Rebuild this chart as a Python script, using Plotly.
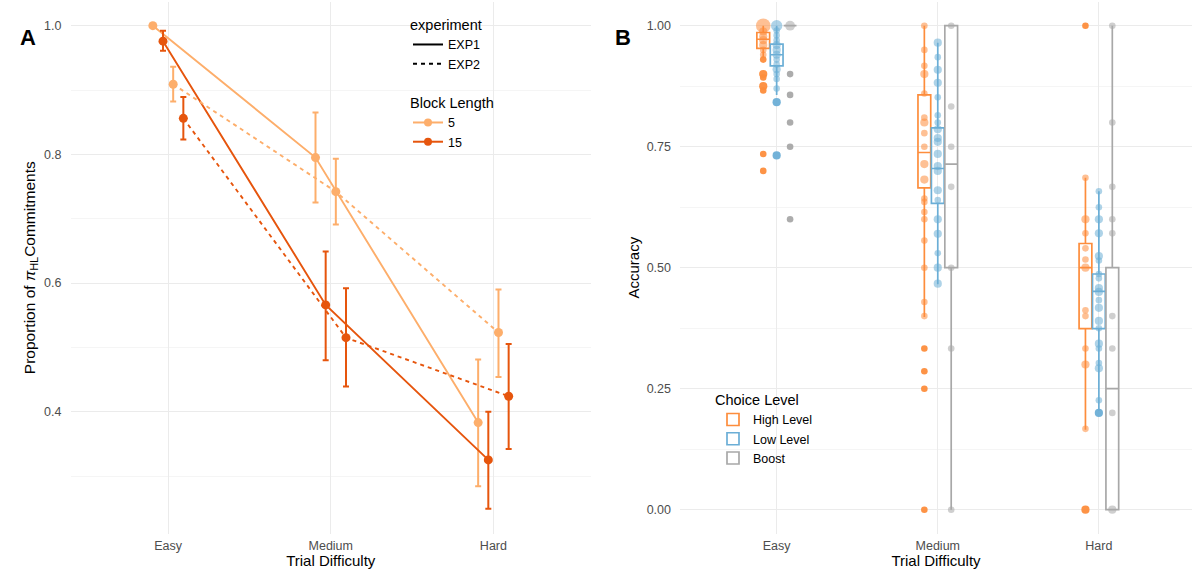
import plotly.graph_objects as go

# ---------------- Panel A data ----------------
difficulty = ["Easy", "Medium", "Hard"]
block_lengths = ["5", "15"]
experiments = ["EXP1", "EXP2"]

# proportion of pi_HL commitments (mean, lower, upper)
b5_exp1_mean = [1.000, 0.795, 0.383]
b5_exp1_low = [1.000, 0.725, 0.284]
b5_exp1_high = [1.000, 0.865, 0.481]

b15_exp1_mean = [0.976, 0.566, 0.325]
b15_exp1_low = [0.961, 0.480, 0.249]
b15_exp1_high = [0.992, 0.649, 0.400]

b5_exp2_mean = [0.909, 0.742, 0.523]
b5_exp2_low = [0.882, 0.691, 0.454]
b5_exp2_high = [0.936, 0.793, 0.590]

b15_exp2_mean = [0.856, 0.515, 0.424]
b15_exp2_low = [0.823, 0.439, 0.342]
b15_exp2_high = [0.889, 0.592, 0.505]

# ---------------- Panel B data ----------------
choice_levels = ["High Level", "Low Level", "Boost"]

# box statistics per difficulty (Easy, Medium, Hard)
high_q1 = [0.953, 0.665, 0.374]
high_med = [0.972, 0.738, 0.500]
high_q3 = [0.986, 0.857, 0.550]
high_lo = [0.933, 0.398, 0.165]
high_hi = [1.000, 1.000, 0.686]

low_q1 = [0.917, 0.633, 0.374]
low_med = [0.940, 0.705, 0.451]
low_q3 = [0.962, 0.789, 0.487]
low_lo = [0.857, 0.466, 0.204]
low_hi = [1.000, 0.965, 0.658]

boost_q1 = [1.000, 0.500, 0.000]
boost_med = [1.000, 0.714, 0.250]
boost_q3 = [1.000, 1.000, 0.500]
boost_lo = [1.000, 0.000, 0.000]
boost_hi = [1.000, 1.000, 1.000]

# individual accuracies and how many participants share each value
high_easy = [1.0, 0.988, 0.978, 0.970, 0.960, 0.950, 0.940, 0.930, 0.900, 0.893, 0.875, 0.866, 0.735, 0.700]
high_easy_n = [6, 2, 2, 2, 2, 1, 1, 1, 2, 1, 2, 1, 1, 1]
high_medium = [1.0, 0.950, 0.917, 0.900, 0.860, 0.810, 0.800, 0.778, 0.750, 0.714, 0.682, 0.643, 0.636,
               0.615, 0.600, 0.556, 0.500, 0.429, 0.400, 0.333, 0.286, 0.250, 0.0]
high_medium_n = [1, 1, 1, 2, 1, 1, 2, 1, 1, 2, 2, 1, 1, 1, 1, 1, 1, 1, 1, 1, 1, 1, 1]
high_hard = [1.0, 0.686, 0.600, 0.571, 0.540, 0.517, 0.500, 0.412, 0.400, 0.333, 0.300, 0.167, 0.0]
high_hard_n = [1, 1, 2, 1, 1, 1, 2, 1, 1, 1, 2, 1, 2]

low_easy = [1.0, 0.990, 0.980, 0.970, 0.960, 0.950, 0.940, 0.930, 0.920, 0.910, 0.900, 0.890, 0.870, 0.842, 0.732]
low_easy_n = [4, 1, 1, 1, 2, 2, 2, 1, 1, 2, 1, 1, 1, 2, 2]
low_medium = [0.965, 0.935, 0.909, 0.882, 0.852, 0.815, 0.800, 0.786, 0.768, 0.760, 0.735, 0.710,
              0.700, 0.660, 0.640, 0.600, 0.570, 0.530, 0.500, 0.467]
low_medium_n = [2, 1, 2, 2, 1, 1, 1, 2, 2, 2, 2, 2, 2, 2, 1, 2, 2, 1, 2, 2]
low_hard = [0.658, 0.625, 0.600, 0.571, 0.524, 0.515, 0.487, 0.478, 0.458, 0.450, 0.433, 0.417,
            0.390, 0.375, 0.343, 0.333, 0.303, 0.292, 0.226, 0.200]
low_hard_n = [1, 1, 2, 2, 2, 1, 1, 1, 2, 2, 1, 2, 2, 1, 2, 1, 1, 2, 1, 2]

boost_easy = [1.0, 0.900, 0.857, 0.800, 0.750, 0.600]
boost_easy_n = [3, 1, 1, 1, 1, 1]
boost_medium = [1.0, 0.833, 0.750, 0.667, 0.500, 0.333, 0.0]
boost_medium_n = [1, 1, 1, 1, 1, 1, 1]
boost_hard = [1.0, 0.800, 0.667, 0.600, 0.571, 0.400, 0.333, 0.200, 0.0]
boost_hard_n = [1, 1, 1, 1, 1, 1, 1, 1, 2]

# ---------------- styles ----------------
FONT = "Liberation Sans, Arial, sans-serif"
C5 = "#FDAE6B"
C15 = "#E6550D"
C_HIGH = "#FD8D3C"
C_LOW = "#6BAED6"
C_BOOST = "#A8A8A8"
GRID = "#EBEBEB"
MINOR = "#F5F5F5"
TICK = "#4D4D4D"

W, H = 1192, 569
y_dom = [(H - 533.9) / H, (H - 1.5) / H]
xa_dom = [70.5 / W, 591 / W]
xb_dom = [680 / W, 1.0]

fig = go.Figure()

# ---------------- Panel A traces ----------------
series_a = [
    ("5", "EXP1", b5_exp1_mean, b5_exp1_low, b5_exp1_high),
    ("15", "EXP1", b15_exp1_mean, b15_exp1_low, b15_exp1_high),
    ("5", "EXP2", b5_exp2_mean, b5_exp2_low, b5_exp2_high),
    ("15", "EXP2", b15_exp2_mean, b15_exp2_low, b15_exp2_high),
]
for blk, exp, m, lo, hi in series_a:
    col = C5 if blk == "5" else C15
    fig.add_trace(go.Scatter(
        x=difficulty, y=m, mode="lines+markers",
        offsetgroup=f"{blk}_{exp}",
        line=dict(color=col, width=1.9, dash="solid" if exp == "EXP1" else "4px,4px"),
        marker=dict(color=col, size=9),
        error_y=dict(type="data", symmetric=False,
                     array=[h - v for h, v in zip(hi, m)],
                     arrayminus=[v - l for v, l in zip(m, lo)],
                     color=col, thickness=2, width=3),
        showlegend=False, xaxis="x", yaxis="y", hoverinfo="skip"))

# legend-only entries for panel A
for exp in experiments:
    fig.add_trace(go.Scatter(
        x=[None], y=[None], mode="lines", name=exp,
        line=dict(color="black", width=2, dash="solid" if exp == "EXP1" else "4px,4px"),
        legend="legend", xaxis="x3", yaxis="y3"))
for blk in block_lengths:
    col = C5 if blk == "5" else C15
    fig.add_trace(go.Scatter(
        x=[None], y=[None], mode="lines+markers", name=blk,
        line=dict(color=col, width=2), marker=dict(color=col, size=8),
        legend="legend2", xaxis="x3", yaxis="y3"))

# ---------------- Panel B traces ----------------
box_specs = [
    ("High Level", C_HIGH, high_q1, high_med, high_q3, high_lo, high_hi,
     [(high_easy, high_easy_n), (high_medium, high_medium_n), (high_hard, high_hard_n)]),
    ("Low Level", C_LOW, low_q1, low_med, low_q3, low_lo, low_hi,
     [(low_easy, low_easy_n), (low_medium, low_medium_n), (low_hard, low_hard_n)]),
    ("Boost", C_BOOST, boost_q1, boost_med, boost_q3, boost_lo, boost_hi,
     [(boost_easy, boost_easy_n), (boost_medium, boost_medium_n), (boost_hard, boost_hard_n)]),
]
for name, col, q1, med, q3, lo, hi, pts in box_specs:
    fig.add_trace(go.Box(
        x=difficulty, q1=q1, median=med, q3=q3, lowerfence=lo, upperfence=hi,
        name=name, offsetgroup=name, boxpoints=False,
        line=dict(color=col, width=1.7), fillcolor="rgba(255,255,255,0)",
        whiskerwidth=0, legend="legend3", xaxis="x2", yaxis="y2", hoverinfo="skip"))

for name, col, q1, med, q3, lo, hi, pts in box_specs:
    xs, ys, ss, ops = [], [], [], []
    for i, (d, (vals, ns)) in enumerate(zip(difficulty, pts)):
        for v, n in zip(vals, ns):
            xs.append(d)
            ys.append(v)
            ss.append(5 + 1.6 * n)
            outlier = v < lo[i] - 1e-9 or v > hi[i] + 1e-9
            ops.append(0.95 if outlier else 0.55)
    fig.add_trace(go.Scatter(
        x=xs, y=ys, mode="markers", offsetgroup=name,
        marker=dict(color=col, size=ss, opacity=ops, line=dict(width=0)),
        showlegend=False, xaxis="x2", yaxis="y2", hoverinfo="skip"))

# ---------------- layout ----------------
axis_common = dict(showline=False, zeroline=False, ticks="",
                   tickfont=dict(family=FONT, size=12.5, color=TICK),
                   gridcolor=GRID, gridwidth=1)
TITLE_FONT = dict(family=FONT, size=15, color="black")

fig.update_layout(
    width=W, height=H, margin=dict(l=0, r=0, t=0, b=0),
    paper_bgcolor="white", plot_bgcolor="white",
    font=dict(family=FONT, color="black"),
    scattermode="group", scattergap=0.75,
    boxmode="group", boxgap=0.75, boxgroupgap=0.05,
    xaxis=dict(domain=xa_dom, type="category", categoryorder="array", categoryarray=difficulty,
               range=[-0.6, 2.6], showgrid=True, anchor="y", ticklabelstandoff=3,
               title=dict(text="Trial Difficulty", font=TITLE_FONT, standoff=2),
               **axis_common),
    yaxis=dict(domain=y_dom, range=[0.21, 1.0376], tickvals=[0.4, 0.6, 0.8, 1.0], tickformat=".1f",
               showgrid=True, anchor="x", ticklabelstandoff=8,
               minor=dict(tickvals=[0.3, 0.5, 0.7, 0.9], showgrid=True, gridcolor=MINOR, gridwidth=1),
               title=dict(text="Proportion of <i>π</i><sub>HL</sub>Commitments",
                          font=dict(family=FONT, size=15.5, color="black"), standoff=4),
               **axis_common),
    xaxis2=dict(domain=xb_dom, type="category", categoryorder="array", categoryarray=difficulty,
                range=[-0.6, 2.578], showgrid=True, anchor="y2", ticklabelstandoff=3,
                title=dict(text="Trial Difficulty", font=TITLE_FONT, standoff=2),
                **axis_common),
    yaxis2=dict(domain=y_dom, range=[-0.05, 1.05], tickvals=[0, 0.25, 0.5, 0.75, 1.0], tickformat=".2f",
                showgrid=True, anchor="x2", ticklabelstandoff=8,
                minor=dict(tickvals=[0.125, 0.375, 0.625, 0.875], showgrid=True, gridcolor=MINOR, gridwidth=1),
                title=dict(text="Accuracy", font=TITLE_FONT, standoff=3),
                **axis_common),
    xaxis3=dict(domain=[0, 0.01], visible=False, anchor="y3"),
    yaxis3=dict(domain=[0, 0.01], visible=False, anchor="x3"),
    legend=dict(title=dict(text="experiment", font=dict(family=FONT, size=14.5)),
                x=408 / W, y=1 - 11 / H, xanchor="left", yanchor="top",
                bgcolor="rgba(255,255,255,0)", font=dict(family=FONT, size=12.5),
                itemwidth=30, tracegroupgap=0),
    legend2=dict(title=dict(text="Block Length", font=dict(family=FONT, size=14.5)),
                 x=408 / W, y=1 - 89 / H, xanchor="left", yanchor="top",
                 bgcolor="rgba(255,255,255,0)", font=dict(family=FONT, size=12.5),
                 itemwidth=30, tracegroupgap=0),
    legend3=dict(title=dict(text="Choice Level", font=dict(family=FONT, size=14.5)),
                 x=713 / W, y=1 - 386 / H, xanchor="left", yanchor="top",
                 bgcolor="rgba(255,255,255,0)", font=dict(family=FONT, size=12.5),
                 itemwidth=30, tracegroupgap=0),
    annotations=[
        dict(text="<b>A</b>", x=18 / W, y=1 - 23 / H, xref="paper", yref="paper",
             showarrow=False, font=dict(family=FONT, size=22, color="black")),
        dict(text="<b>B</b>", x=623 / W, y=1 - 23 / H, xref="paper", yref="paper",
             showarrow=False, font=dict(family=FONT, size=22, color="black")),
    ],
)

fig.write_html("out.html")
